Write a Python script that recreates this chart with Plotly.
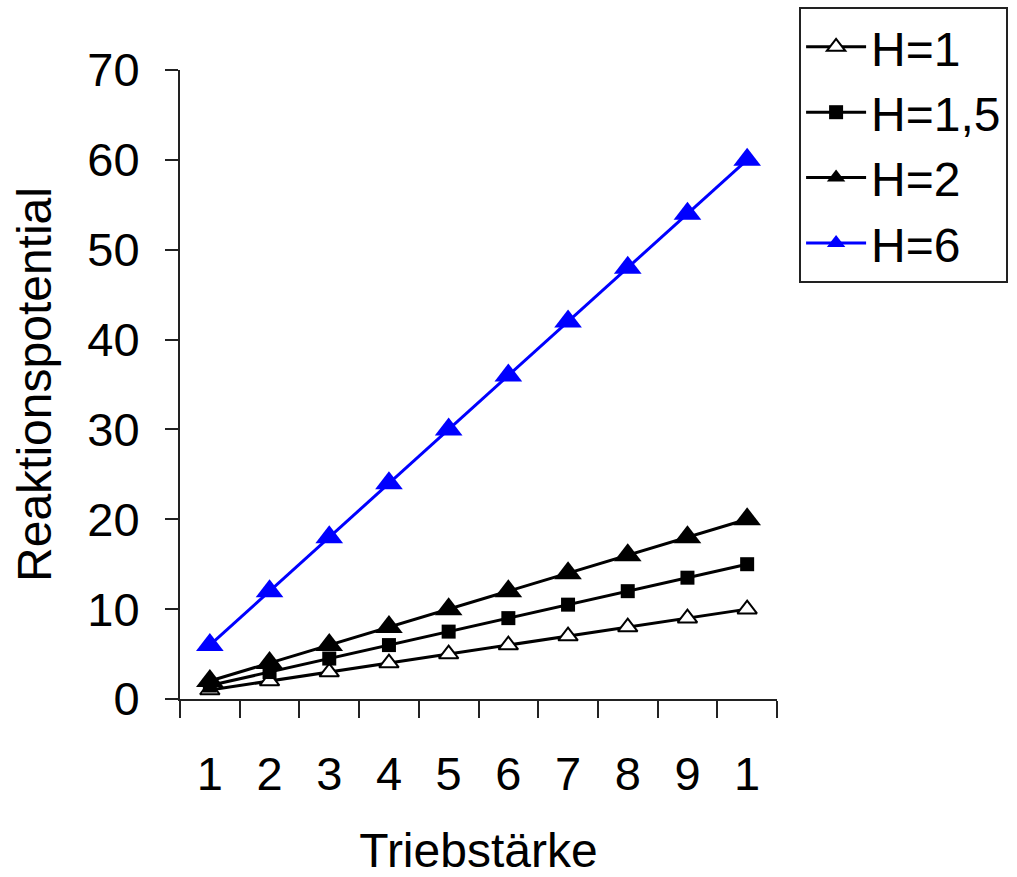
import plotly.graph_objects as go

categories = ["1", "2", "3", "4", "5", "6", "7", "8", "9", "10"]
tick_labels = ["1", "2", "3", "4", "5", "6", "7", "8", "9", "1"]
h1 = [1, 2, 3, 4, 5, 6, 7, 8, 9, 10]
h15 = [1.5, 3, 4.5, 6, 7.5, 9, 10.5, 12, 13.5, 15]
h2 = [2, 4, 6, 8, 10, 12, 14, 16, 18, 20]
h6 = [6, 12, 18, 24, 30, 36, 42, 48, 54, 60]
y_ticks = [0, 10, 20, 30, 40, 50, 60, 70]

FONT = "Liberation Sans, Arial, sans-serif"

fig = go.Figure()
fig.add_trace(go.Scatter(x=categories, y=h1, name="H=1", mode="lines+markers",
                         line=dict(color="black", width=3),
                         marker=dict(symbol="triangle-up", size=17, color="white",
                                     line=dict(color="black", width=2))))
fig.add_trace(go.Scatter(x=categories, y=h15, name="H=1,5", mode="lines+markers",
                         line=dict(color="black", width=3),
                         marker=dict(symbol="square", size=14, color="black")))
fig.add_trace(go.Scatter(x=categories, y=h2, name="H=2", mode="lines+markers",
                         line=dict(color="black", width=3),
                         marker=dict(symbol="triangle-up", size=24, color="black")))
fig.add_trace(go.Scatter(x=categories, y=h6, name="H=6", mode="lines+markers",
                         line=dict(color="#0000ff", width=3),
                         marker=dict(symbol="triangle-up", size=24, color="#0000ff")))

fig.update_layout(
    width=1017, height=877,
    margin=dict(l=180, r=240, t=70, b=178, autoexpand=False),
    paper_bgcolor="white", plot_bgcolor="white",
    font=dict(family=FONT, size=47, color="black"),
    showlegend=True,
    legend=dict(x=1.037, y=1.1, xanchor="left", yanchor="top",
                bordercolor="#222", borderwidth=2, bgcolor="white",
                font=dict(size=48), itemwidth=60),
    xaxis=dict(
        type="category", tickmode="array", tickvals=categories, ticktext=tick_labels,
        tickson="boundaries", ticks="outside", ticklen=17, tickwidth=2, tickcolor="#222",
        showline=True, linecolor="#222", linewidth=2, showgrid=False, zeroline=False,
        ticklabelstandoff=33, range=[-0.5, 9.5], automargin=False,
        title=dict(text="Triebstärke", standoff=42, font=dict(size=48)),
    ),
    yaxis=dict(
        range=[0, 70], tickmode="array", tickvals=y_ticks,
        ticks="outside", ticklen=13, tickwidth=2, tickcolor="#222",
        showline=True, linecolor="#222", linewidth=2, showgrid=False, zeroline=False,
        ticklabelstandoff=16, automargin=False,
        title=dict(text="Reaktionspotential", standoff=21, font=dict(size=48)),
    ),
)

fig.write_html("out.html")
